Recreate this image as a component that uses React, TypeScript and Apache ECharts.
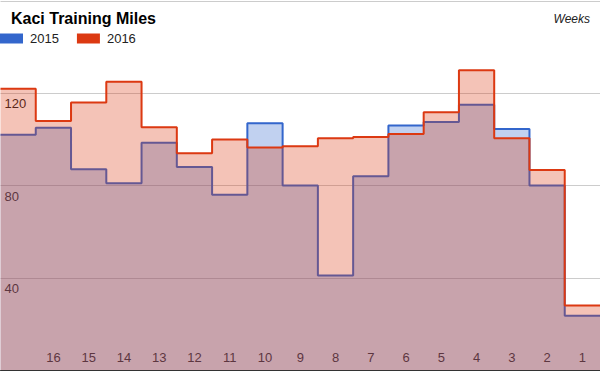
import React, { useEffect, useRef } from "react";
import * as echarts from "echarts";

const weeks = ["17", "16", "15", "14", "13", "12", "11", "10", "9", "8", "7", "6", "5", "4", "3", "2", "1"];
const miles2015 = [102, 105, 87, 81, 98.5, 88, 76, 107, 80, 41, 84, 106, 107.5, 115, 104.5, 80, 23.5];
const miles2016 = [122, 108, 116, 125, 105.3, 94, 100, 96.5, 97, 100.5, 101, 102.3, 111.8, 130, 100.5, 86.7, 28];
const seriesNames = ["2015", "2016"];
const seriesColors = ["#3366cc", "#dc3912"];
const yMin = 0;
const yMax = 160;
const yStep = 40;

const FONT = "Arial, 'Liberation Sans', sans-serif";

function stepPoints(vals: number[]): number[][] {
  const pts = vals.map((v, i) => [i, v]);
  pts.push([vals.length, vals[vals.length - 1]]);
  return pts;
}

export default function App() {
  const ref = useRef<HTMLDivElement>(null);
  useEffect(() => {
    document.body.style.margin = "0";
    if (!ref.current) return;
    const chart = echarts.init(ref.current, undefined, { renderer: "svg" });
    const labelText = {
      color: "#222",
      fontFamily: FONT,
      fontSize: 13,
      textBorderColor: "#fff",
      textBorderWidth: 3,
    };
    const allSeries = [miles2015, miles2016].map((vals, k) => ({
      name: seriesNames[k],
      type: "line",
      step: "end",
      z: 2 + k * 2,
      xAxisIndex: 0,
      yAxisIndex: 0,
      data: stepPoints(vals),
      symbol: "none",
      showSymbol: false,
      lineStyle: { color: seriesColors[k], width: 2 },
      itemStyle: { color: seriesColors[k] },
      areaStyle: { color: seriesColors[k], opacity: 0.3 },
    }));
    chart.setOption({
      animation: false,
      title: {
        text: "Kaci Training Miles",
        left: 11,
        top: 10,
        padding: 0,
        textStyle: { fontFamily: FONT, fontSize: 16, fontWeight: "bold", color: "#000" },
      },
      legend: {
        left: 0,
        top: 32,
        padding: 0,
        icon: "rect",
        itemWidth: 23,
        itemHeight: 10,
        itemGap: 18,
        textStyle: { fontFamily: FONT, fontSize: 13, color: "#222", padding: [0, 0, 0, 2] },
        data: seriesNames,
      },
      graphic: [
        {
          type: "text",
          right: 10,
          top: 13,
          style: { text: "Weeks", font: "italic 12px Arial, 'Liberation Sans', sans-serif", fill: "#222" },
        },
      ],
      grid: { left: 0, right: 0, top: 1, bottom: 1 },
      xAxis: [
        { type: "value", min: 0, max: weeks.length, show: false, position: "top" },
        {
          type: "category",
          data: weeks,
          boundaryGap: true,
          position: "bottom",
          axisLine: { show: true, lineStyle: { color: "#333", width: 1 } },
          axisTick: { show: false },
          splitLine: { show: false },
          axisLabel: {
            inside: true,
            margin: 6,
            interval: (i: number) => i > 0,
            ...labelText,
          },
        },
      ],
      yAxis: {
        type: "value",
        min: yMin,
        max: yMax,
        interval: yStep,
        axisLine: { show: false },
        axisTick: { show: false },
        splitLine: { lineStyle: { color: "#cccccc", width: 1 } },
        axisLabel: {
          inside: true,
          showMinLabel: false,
          showMaxLabel: false,
          verticalAlign: "top",
          margin: 4,
          padding: [4, 0, 0, 0],
          ...labelText,
        },
      },
      series: allSeries,
    });
    return () => chart.dispose();
  }, []);
  return <div ref={ref} style={{ width: 600, height: 371 }} />;
}
